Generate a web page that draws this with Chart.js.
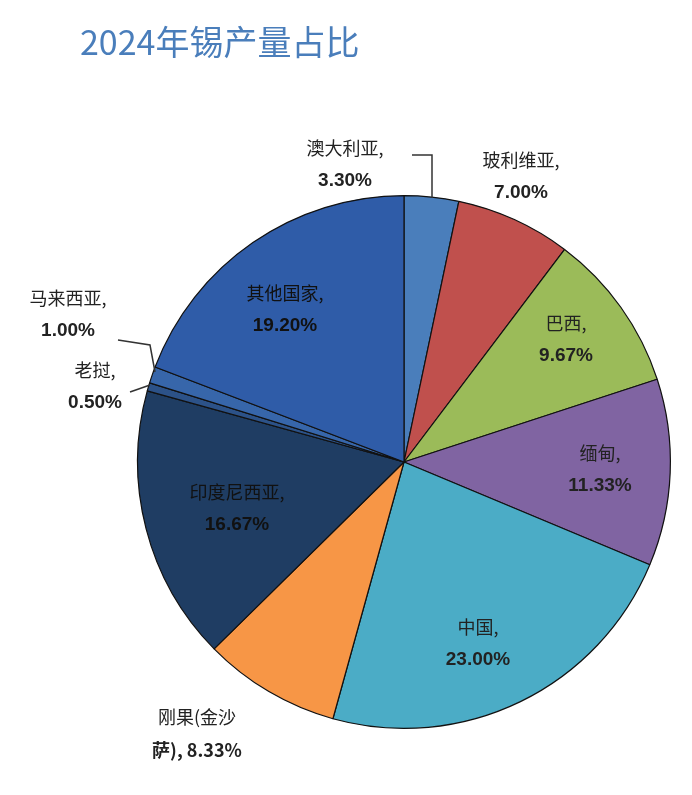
<!DOCTYPE html>
<html><head><meta charset="utf-8">
<script src="https://cdn.jsdelivr.net/npm/chart.js@4/dist/chart.umd.min.js"></script>
<style>html,body{margin:0;padding:0;background:#fff}#w{width:692px;height:795px;position:relative}</style>
</head><body><div id="w"><canvas id="c"></canvas></div>
<script>
const categories=['澳大利亚','玻利维亚','巴西','缅甸','中国','刚果(金沙萨)','印度尼西亚','老挝','马来西亚','其他国家'];
const values=[3.30,7.00,9.67,11.33,23.00,8.33,16.67,0.50,1.00,19.20];
const colors=['#4a7ebb','#c0504d','#9bbb59','#8064a2','#4bacc6','#f79646','#1f3d63','#2c5288','#3766aa','#2f5ca8'];
const labelLines=[['澳大利亚,','3.30%'],['玻利维亚,','7.00%'],['巴西,','9.67%'],['缅甸,','11.33%'],['中国,','23.00%'],['刚果(金沙','萨), 8.33%'],['印度尼西亚,','16.67%'],['老挝,','0.50%'],['马来西亚,','1.00%'],['其他国家,','19.20%']];
const labelPos=[[345,148],[521,160],[566,323],[600,453],[478,627],[197,717],[237,492],[95,370],[68,298],[285,293]];
const labelColor=['#222','#222','#222','#222','#222','#222','#111','#222','#222','#111'];
const labelsPlugin={id:'lbl',afterDraw(ch){
  const ctx=ch.ctx;ctx.save();
  ctx.fillStyle='#4a7ebb';ctx.font='34px "Noto Sans CJK SC"';ctx.textBaseline='middle';ctx.textAlign='left';
  ctx.fillText('2024年锡产量占比',80,42);
  ctx.strokeStyle='#333';ctx.lineWidth=1.5;
  ctx.beginPath();ctx.moveTo(412,155);ctx.lineTo(432,155);ctx.lineTo(432,198);ctx.stroke();
  ctx.beginPath();ctx.moveTo(118,340);ctx.lineTo(150,345);ctx.lineTo(155,372);ctx.stroke();
  ctx.beginPath();ctx.moveTo(130,392);ctx.lineTo(150,385);ctx.stroke();
  ctx.textAlign='center';
  labelLines.forEach((l,i)=>{
    ctx.fillStyle=labelColor[i];
    ctx.font='18px "Noto Sans CJK SC"';ctx.fillText(l[0],labelPos[i][0],labelPos[i][1]);
    ctx.font='bold 19px "Liberation Sans"';
    if(i===5){ctx.font='bold 18px "Noto Sans CJK SC"';}
    ctx.fillText(l[1],labelPos[i][0],labelPos[i][1]+33);
  });
  ctx.restore();}};
new Chart(document.getElementById('c'),{type:'pie',
 data:{labels:categories,datasets:[{data:values,backgroundColor:colors,borderColor:'#111',borderWidth:1.2}]},
 options:{responsive:true,maintainAspectRatio:false,animation:false,
  layout:{padding:{left:137,right:21,top:195,bottom:66}},
  plugins:{legend:{display:false},tooltip:{enabled:false}}},
 plugins:[labelsPlugin]});
</script></body></html>
